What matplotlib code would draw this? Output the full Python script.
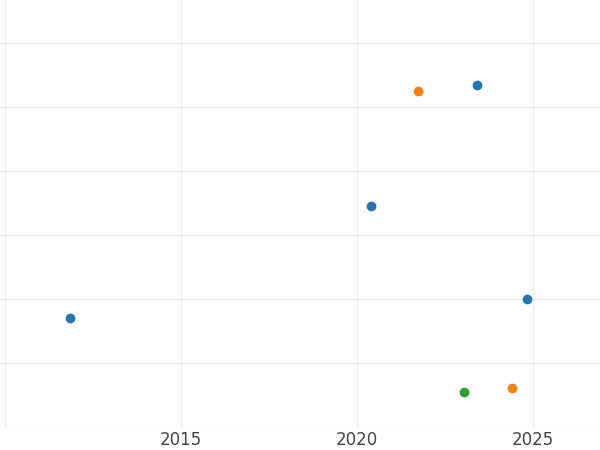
import matplotlib
matplotlib.use("Agg")
import matplotlib.pyplot as plt

# Series values
blue_x = [2011.85, 2020.4, 2023.4, 2024.83]
blue_y = [1.70, 3.45, 5.34, 2.0]
orange_x = [2021.73, 2024.4]
orange_y = [5.25, 0.61]
green_x = [2023.05]
green_y = [0.55]
x_ticks = [2010, 2015, 2020, 2025]
x_labels = ["", "2015", "2020", "2025"]

fig = plt.figure(figsize=(6, 4.5), dpi=100)
ax = fig.add_axes([0, 23 / 450, 1, 427 / 450])

ax.scatter(blue_x, blue_y, color="#1f77b4", s=36, zorder=3)
ax.scatter(orange_x, orange_y, color="#ff7f0e", s=36, zorder=3)
ax.scatter(green_x, green_y, color="#2ca02c", s=36, zorder=3)

ax.set_xlim(2009.86, 2026.9)
ax.set_ylim(0, 6.67)
ax.set_xticks(x_ticks)
ax.set_xticklabels(x_labels)
ax.set_yticks(range(0, 7))
ax.set_yticklabels([])
ax.grid(True, color="#ebebeb", linewidth=1)
ax.set_axisbelow(True)
ax.tick_params(length=0, labelsize=12, labelcolor="#444444", pad=3)
for s in ax.spines.values():
    s.set_visible(False)

fig.savefig("out.png", dpi=100)
